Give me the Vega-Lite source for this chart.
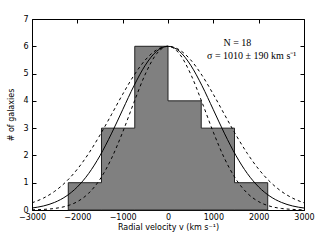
{
  "$schema": "https://vega.github.io/schema/vega-lite/v6.json",
  "width": 272,
  "height": 191,
  "autosize": {"type": "none"},
  "padding": {"left": 32, "top": 19, "right": 16, "bottom": 30},
  "config": {
    "view": {"stroke": "black", "strokeWidth": 1},
    "axis": {
      "grid": false, "domain": false, "tickColor": "black", "tickSize": -4, "tickWidth": 1,
      "labelFlush": false, "labelOverlap": false,
      "labelFont": "DejaVu Sans", "labelFontSize": 8, "labelColor": "black",
      "titleFont": "DejaVu Sans", "titleFontSize": 8, "titleFontWeight": "normal", "titleColor": "black"
    }
  },
  "datasets": {
    "hist": [
      {"left": -2200, "count": 1},
      {"left": -1467, "count": 3},
      {"left": -733, "count": 6},
      {"left": 0, "count": 4},
      {"left": 733, "count": 3},
      {"left": 1467, "count": 1},
      {"left": 2200, "count": 0}
    ],
    "curves": [
      {"v": -3000, "fit": 0.073, "hi": 0.264, "lo": 0.007},
      {"v": -2750, "fit": 0.147, "hi": 0.434, "lo": 0.022},
      {"v": -2500, "fit": 0.280, "hi": 0.685, "lo": 0.057},
      {"v": -2250, "fit": 0.502, "hi": 1.035, "lo": 0.139},
      {"v": -2000, "fit": 0.845, "hi": 1.496, "lo": 0.306},
      {"v": -1750, "fit": 1.337, "hi": 2.072, "lo": 0.615},
      {"v": -1500, "fit": 1.992, "hi": 2.747, "lo": 1.126},
      {"v": -1250, "fit": 2.790, "hi": 3.488, "lo": 1.877},
      {"v": -1000, "fit": 3.675, "hi": 4.240, "lo": 2.852},
      {"v": -750, "fit": 4.554, "hi": 4.935, "lo": 3.949},
      {"v": -500, "fit": 5.308, "hi": 5.501, "lo": 4.982},
      {"v": -250, "fit": 5.819, "hi": 5.871, "lo": 5.728},
      {"v": 0, "fit": 6.0, "hi": 6.0, "lo": 6.0},
      {"v": 250, "fit": 5.819, "hi": 5.871, "lo": 5.728},
      {"v": 500, "fit": 5.308, "hi": 5.501, "lo": 4.982},
      {"v": 750, "fit": 4.554, "hi": 4.935, "lo": 3.949},
      {"v": 1000, "fit": 3.675, "hi": 4.240, "lo": 2.852},
      {"v": 1250, "fit": 2.790, "hi": 3.488, "lo": 1.877},
      {"v": 1500, "fit": 1.992, "hi": 2.747, "lo": 1.126},
      {"v": 1750, "fit": 1.337, "hi": 2.072, "lo": 0.615},
      {"v": 2000, "fit": 0.845, "hi": 1.496, "lo": 0.306},
      {"v": 2250, "fit": 0.502, "hi": 1.035, "lo": 0.139},
      {"v": 2500, "fit": 0.280, "hi": 0.685, "lo": 0.057},
      {"v": 2750, "fit": 0.147, "hi": 0.434, "lo": 0.022},
      {"v": 3000, "fit": 0.073, "hi": 0.264, "lo": 0.007}
    ]
  },
  "layer": [
    {
      "data": {"name": "hist"},
      "mark": {"type": "area", "interpolate": "step-after", "fill": "#808080", "stroke": "#222222", "strokeWidth": 1, "opacity": 1},
      "encoding": {
        "x": {"field": "left", "type": "quantitative", "scale": {"domain": [-3000, 3000], "nice": false},
          "axis": {"orient": "bottom", "values": [-3000, -2000, -1000, 0, 1000, 2000, 3000], "format": "d", "title": "Radial velocity v (km s⁻¹)", "labelPadding": 7, "titlePadding": 2}},
        "y": {"field": "count", "type": "quantitative", "scale": {"domain": [0, 7], "nice": false},
          "axis": {"orient": "left", "values": [0, 1, 2, 3, 4, 5, 6, 7], "title": "# of galaxies", "labelPadding": 8, "titlePadding": 7}}
      }
    },
    {
      "data": {"name": "curves"},
      "mark": {"type": "line", "interpolate": "monotone", "color": "black", "strokeWidth": 1},
      "encoding": {
        "x": {"field": "v", "type": "quantitative", "axis": {"orient": "top", "labels": false, "title": null, "values": [-3000, -2000, -1000, 0, 1000, 2000, 3000]}},
        "y": {"field": "fit", "type": "quantitative", "axis": {"orient": "right", "labels": false, "title": null, "values": [0, 1, 2, 3, 4, 5, 6, 7]}}
      }
    },
    {
      "data": {"name": "curves"},
      "mark": {"type": "line", "interpolate": "monotone", "color": "black", "strokeWidth": 1, "strokeDash": [3, 3]},
      "encoding": {
        "x": {"field": "v", "type": "quantitative", "axis": null},
        "y": {"field": "hi", "type": "quantitative", "axis": null}
      }
    },
    {
      "data": {"name": "curves"},
      "mark": {"type": "line", "interpolate": "monotone", "color": "black", "strokeWidth": 1, "strokeDash": [3, 3]},
      "encoding": {
        "x": {"field": "v", "type": "quantitative", "axis": null},
        "y": {"field": "lo", "type": "quantitative", "axis": null}
      }
    },
    {
      "data": {"values": [{}]},
      "mark": {"type": "text", "font": "Liberation Serif", "fontSize": 10, "color": "black", "align": "center", "baseline": "middle"},
      "encoding": {
        "x": {"datum": 1530, "type": "quantitative", "axis": null},
        "y": {"datum": 6.13, "type": "quantitative", "axis": null},
        "text": {"value": "N = 18"}
      }
    },
    {
      "data": {"values": [{}]},
      "mark": {"type": "text", "font": "Liberation Serif", "fontSize": 10, "color": "black", "align": "center", "baseline": "middle"},
      "encoding": {
        "x": {"datum": 1846, "type": "quantitative", "axis": null},
        "y": {"datum": 5.64, "type": "quantitative", "axis": null},
        "text": {"value": "σ = 1010 ± 190 km s⁻¹"}
      }
    }
  ],
  "resolve": {"axis": {"x": "independent", "y": "independent"}}
}
